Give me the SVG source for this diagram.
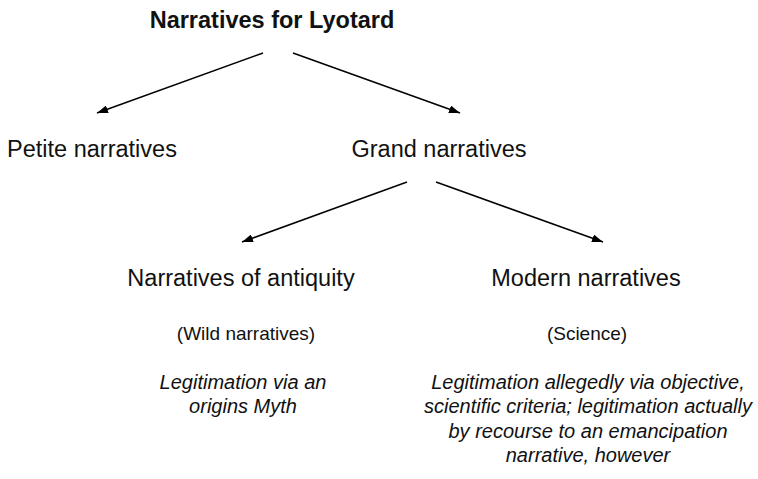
<svg xmlns="http://www.w3.org/2000/svg" width="758" height="479" viewBox="0 0 758 479">
<style>
text{font-family:"Liberation Sans",Arial,sans-serif;fill:#111;text-anchor:middle}
.h{font-size:23.5px}
.t{font-size:23.5px;font-weight:bold}
.s{font-size:19px}
.i{font-size:20px;font-style:italic}
.c line{stroke:#000;stroke-width:1.5;marker-end:url(#a)}
</style>
<defs>
<marker id="a" viewBox="0 0 11 8" refX="11" refY="4" markerWidth="11" markerHeight="8" markerUnits="userSpaceOnUse" orient="auto">
<path d="M0,0L11,4L0,8z" fill="#000"/>
</marker>
</defs>
<rect width="758" height="479" fill="#fff"/>
<g id="connectors" class="c">
<line x1="263" y1="53" x2="97" y2="113"/>
<line x1="293" y1="53" x2="460" y2="113"/>
<line x1="407" y1="182" x2="242" y2="242"/>
<line x1="436" y1="182" x2="603" y2="242"/>
</g>
<g id="root"><text class="t" x="272" y="28">Narratives for Lyotard</text></g>
<g id="petite"><text class="h" x="92" y="157">Petite narratives</text></g>
<g id="grand"><text class="h" x="439" y="157">Grand narratives</text></g>
<g id="antiquity">
<text class="h" x="241" y="286">Narratives of antiquity</text>
<text class="s" x="246" y="340">(Wild narratives)</text>
<text class="i" x="243" y="389">Legitimation via an</text>
<text class="i" x="243" y="413">origins Myth</text>
</g>
<g id="modern">
<text class="h" x="586" y="286">Modern narratives</text>
<text class="s" x="587" y="340">(Science)</text>
<text class="i" x="588" y="389">Legitimation allegedly via objective,</text>
<text class="i" x="588" y="413">scientific criteria; legitimation actually</text>
<text class="i" x="588" y="438">by recourse to an emancipation</text>
<text class="i" x="588" y="462">narrative, however</text>
</g>
</svg>
